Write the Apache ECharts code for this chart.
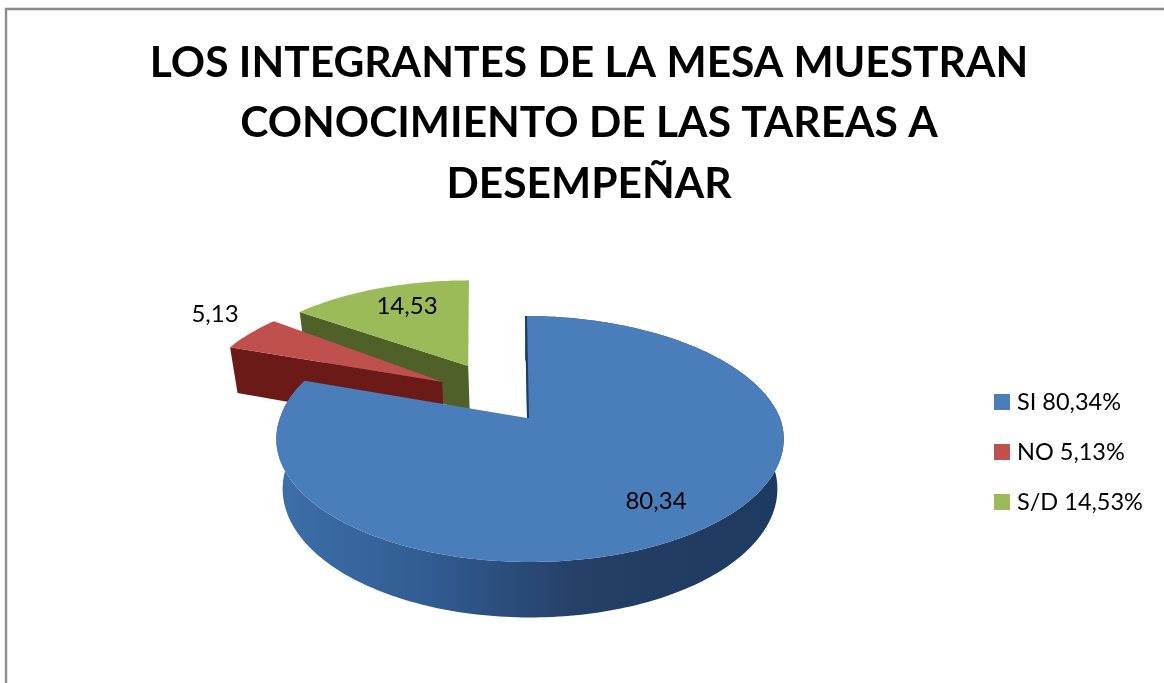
<!DOCTYPE html>
<html>
<head>
<meta charset="utf-8">
<style>
    html, body { margin: 0; padding: 0; background: #fff; }
    #main { width: 1164px; height: 683px; }
</style>
<script src="https://cdn.jsdelivr.net/npm/echarts@6/dist/echarts.min.js"></script>
</head>
<body>
<div id="main"></div>
<script>
var titleText = 'LOS INTEGRANTES DE LA MESA MUESTRAN\nCONOCIMIENTO DE LAS TAREAS A\nDESEMPEÑAR';
var categories = ['SI', 'NO', 'S/D'];
var values = [80.34, 5.13, 14.53];

var FONT = 'Lato, "Open Sans", sans-serif';

// 每块扇形的样式：顶面颜色、侧面颜色、移出量、标签位置、前后顺序
var topColors = ['#4a7ebb', '#c0504d', '#9bbb59'];
var wallColors = [
    { type: 'linear', x: 0, y: 0, x2: 1, y2: 0, colorStops: [
        { offset: 0, color: '#3d6fa9' },
        { offset: 0.3, color: '#315c92' },
        { offset: 0.6, color: '#253f66' },
        { offset: 1, color: '#1d3a60' }
    ] },
    '#6b1a18',
    '#4f6128'
];
var explode = [[0, 0], [-0.375, 0.33], [-0.27, 0.435]];
var apexShift = [[-0.012, 0], [0.012, -0.01], [0.014, 0.035]];
var labelPos = [[656, 501], [215, 314], [407, 306]];
var layers = [20, 10, 0];

// 透视参数：圆盘坐标 (u, v) 投影到屏幕
var X0 = 530, Y0 = 418, A = 250, B = 119.4, K = 0.1707, SKEW = -5.9;
var DEPTH = 49, SHRINK = 0.975;

function project(u, v, bottom) {
    var d = 1 + K * v;
    var f = bottom ? SHRINK : 1;
    return [
        X0 + f * (A * u + SKEW * Math.max(v, 0)) / d,
        Y0 - f * B * v / d + (bottom ? DEPTH / d : 0)
    ];
}

function total() {
    var sum = 0;
    for (var i = 0; i < values.length; i++) {
        sum += values[i];
    }
    return sum;
}

function startAngle(index) {
    var sum = 0;
    for (var i = 0; i < index; i++) {
        sum += values[i];
    }
    return sum / total() * Math.PI * 2;
}

function rimPoint(index, angle, bottom) {
    var e = explode[index];
    return project(Math.sin(angle) + e[0], Math.cos(angle) + e[1], bottom);
}

function apexPoint(index, bottom) {
    var e = explode[index];
    var s = apexShift[index];
    return project(e[0] + s[0], e[1] + s[1], bottom);
}

function arcPoints(index, a0, a1, bottom) {
    var pts = [];
    var steps = Math.max(4, Math.round((a1 - a0) / 0.02));
    for (var i = 0; i <= steps; i++) {
        pts.push(rimPoint(index, a0 + (a1 - a0) * i / steps, bottom));
    }
    return pts;
}

function polygon(points, fill, z2) {
    return {
        type: 'polygon',
        z2: z2,
        shape: { points: points },
        style: { fill: fill, stroke: null }
    };
}

function renderSlice(params, api) {
    var index = params.seriesIndex;
    var a0 = startAngle(index);
    var a1 = a0 + api.value(0) / total() * Math.PI * 2;
    var z = layers[index];
    var wall = wallColors[index];
    var children = [];

    // 朝前的切面（红、绿两块）
    if (index !== 0) {
        children.push(polygon([rimPoint(index, a0), apexPoint(index), apexPoint(index, true), rimPoint(index, a0, true)], wall, z));
    }

    // 外侧面，只有蓝色块看得到
    var upper = arcPoints(index, a0, a1);
    if (index === 0) {
        var lower = arcPoints(index, a0, a1, true).reverse();
        children.push(polygon(upper.concat(lower), wall, z + 1));

        // 蓝色块竖直切口的暗边
        var p = rimPoint(index, a0);
        var q = apexPoint(index);
        children.push({
            type: 'polyline',
            z2: z + 3,
            shape: { points: [[p[0] + 1, p[1]], [q[0] + 1, q[1]]] },
            style: { stroke: '#1d3a60', lineWidth: 2, fill: null }
        });
    }

    // 顶面
    children.push(polygon(upper.concat([apexPoint(index)]), topColors[index], z + 2));

    // 数据标签
    children.push({
        type: 'text',
        z2: 40,
        style: {
            x: labelPos[index][0],
            y: labelPos[index][1],
            text: String(api.value(0)).replace('.', ','),
            fill: '#000',
            font: '24px ' + FONT,
            align: 'center',
            verticalAlign: 'middle'
        }
    });
    return { type: 'group', children: children };
}

var seriesList = [];
for (var i = 0; i < categories.length; i++) {
    seriesList.push({
        name: categories[i] + ' ' + String(values[i]).replace('.', ',') + '%',
        type: 'custom',
        coordinateSystem: 'none',
        silent: true,
        itemStyle: { color: topColors[i] },
        renderItem: renderSlice,
        data: [[values[i]]]
    });
}

var myChart = echarts.init(document.getElementById('main'));
var options = {
    animation: false,
    backgroundColor: '#fff',
    title: {
        text: titleText,
        left: 584,
        top: 28,
        textAlign: 'center',
        textStyle: {
            fontFamily: FONT,
            fontWeight: 'bold',
            fontSize: 42.5,
            lineHeight: 60.5,
            color: '#000'
        }
    },
    legend: {
        orient: 'vertical',
        left: 994,
        top: 390,
        padding: 0,
        icon: 'rect',
        itemWidth: 16,
        itemHeight: 16,
        itemGap: 26,
        selectedMode: false,
        textStyle: {
            fontFamily: FONT,
            fontSize: 23.5,
            color: '#000',
            padding: [0, 0, 0, 2]
        }
    },
    // 外框
    graphic: [{
        type: 'polyline',
        silent: true,
        shape: { points: [[6, 683], [6, 9], [1164, 9]] },
        style: { stroke: '#8c8c8c', lineWidth: 2.4, fill: null }
    }],
    series: seriesList
};
myChart.setOption(options, true);
</script>
</body>
</html>
